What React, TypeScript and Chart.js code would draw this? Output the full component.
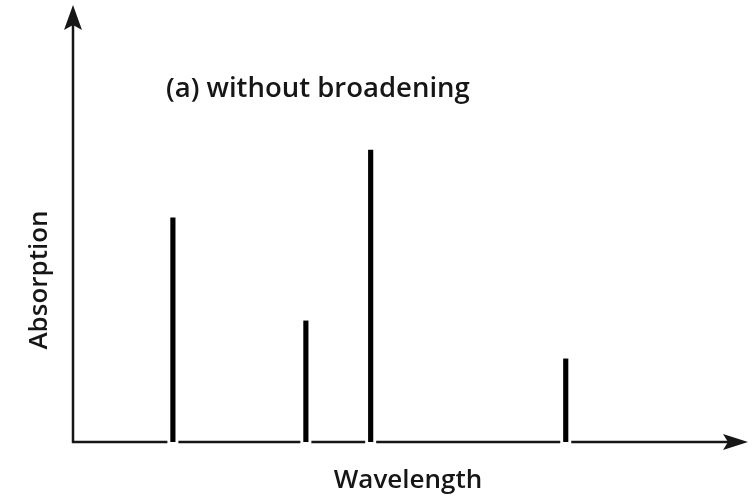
import React, { useEffect, useRef } from "react";
import { Chart, registerables } from "chart.js";

Chart.register(...registerables);

const wavelengths = [14.8, 34.5, 44.1, 73.0];
const absorption = [53.1, 28.7, 69.2, 19.7];
const titleText = "(a) without broadening";
const xLabel = "Wavelength";
const yLabel = "Absorption";

const INK = "#161616";

const axesPlugin = {
  id: "arrowAxes",
  afterDatasetsDraw(chart: any) {
    const { ctx, chartArea, scales } = chart;
    const xs = scales.x;
    const ys = scales.y;
    const y0 = ys.getPixelForValue(0);
    const left = chartArea.left;
    const right = chartArea.right;
    ctx.save();
    ctx.strokeStyle = INK;
    ctx.fillStyle = INK;
    ctx.lineWidth = 2.5;
    ctx.lineCap = "butt";
    // y axis
    ctx.beginPath();
    ctx.moveTo(left, y0 + 1);
    ctx.lineTo(left, 24);
    ctx.stroke();
    ctx.beginPath();
    ctx.moveTo(left, 5);
    ctx.lineTo(left - 9, 30);
    ctx.lineTo(left, 25);
    ctx.lineTo(left + 9, 30);
    ctx.closePath();
    ctx.fill();
    // x axis with gaps at spikes
    const gaps = wavelengths.map((w) => xs.getPixelForValue(w)).sort((a: number, b: number) => a - b);
    let start = left - 1;
    ctx.beginPath();
    for (const g of gaps) {
      ctx.moveTo(start, y0);
      ctx.lineTo(g - 5.5, y0);
      start = g + 5.5;
    }
    ctx.moveTo(start, y0);
    ctx.lineTo(right - 20, y0);
    ctx.stroke();
    ctx.beginPath();
    ctx.moveTo(right, y0);
    ctx.lineTo(right - 25, y0 - 8);
    ctx.lineTo(right - 20, y0);
    ctx.lineTo(right - 25, y0 + 8);
    ctx.closePath();
    ctx.fill();
    // texts
    ctx.textBaseline = "alphabetic";
    ctx.textAlign = "left";
    ctx.font = '600 27.5px "Open Sans", sans-serif';
    ctx.fillText(titleText, 166, 97);
    ctx.textAlign = "center";
    ctx.font = '600 26px "Open Sans", sans-serif';
    ctx.fillText(xLabel, 408, 488);
    ctx.save();
    ctx.translate(47, 280);
    ctx.rotate(-Math.PI / 2);
    ctx.fillText(yLabel, 0, 0);
    ctx.restore();
    ctx.restore();
  },
};

export default function App() {
  const ref = useRef<HTMLCanvasElement>(null);
  useEffect(() => {
    document.body.style.margin = "0";
    const chart = new Chart(ref.current as HTMLCanvasElement, {
      type: "bar",
      data: {
        datasets: [
          {
            data: wavelengths.map((w, i) => ({ x: w, y: absorption[i] })),
            backgroundColor: "#000",
            borderWidth: 0,
            barThickness: 4.5,
            base: -0.7,
          } as any,
        ],
      },
      options: {
        animation: false,
        responsive: false,
        layout: { padding: { left: 73, top: 20, right: 8, bottom: 56 } },
        plugins: { legend: { display: false }, tooltip: { enabled: false } },
        scales: {
          x: { type: "linear", min: 0, max: 100, display: false, offset: false },
          y: { type: "linear", min: 0, max: 100, display: false },
        },
      },
      plugins: [axesPlugin],
    });
    return () => chart.destroy();
  }, []);
  return (
    <div style={{ position: "absolute", left: 0, top: 0, width: 756, height: 498, background: "#fff" }}>
      <canvas ref={ref} width={756} height={498} />
    </div>
  );
}
